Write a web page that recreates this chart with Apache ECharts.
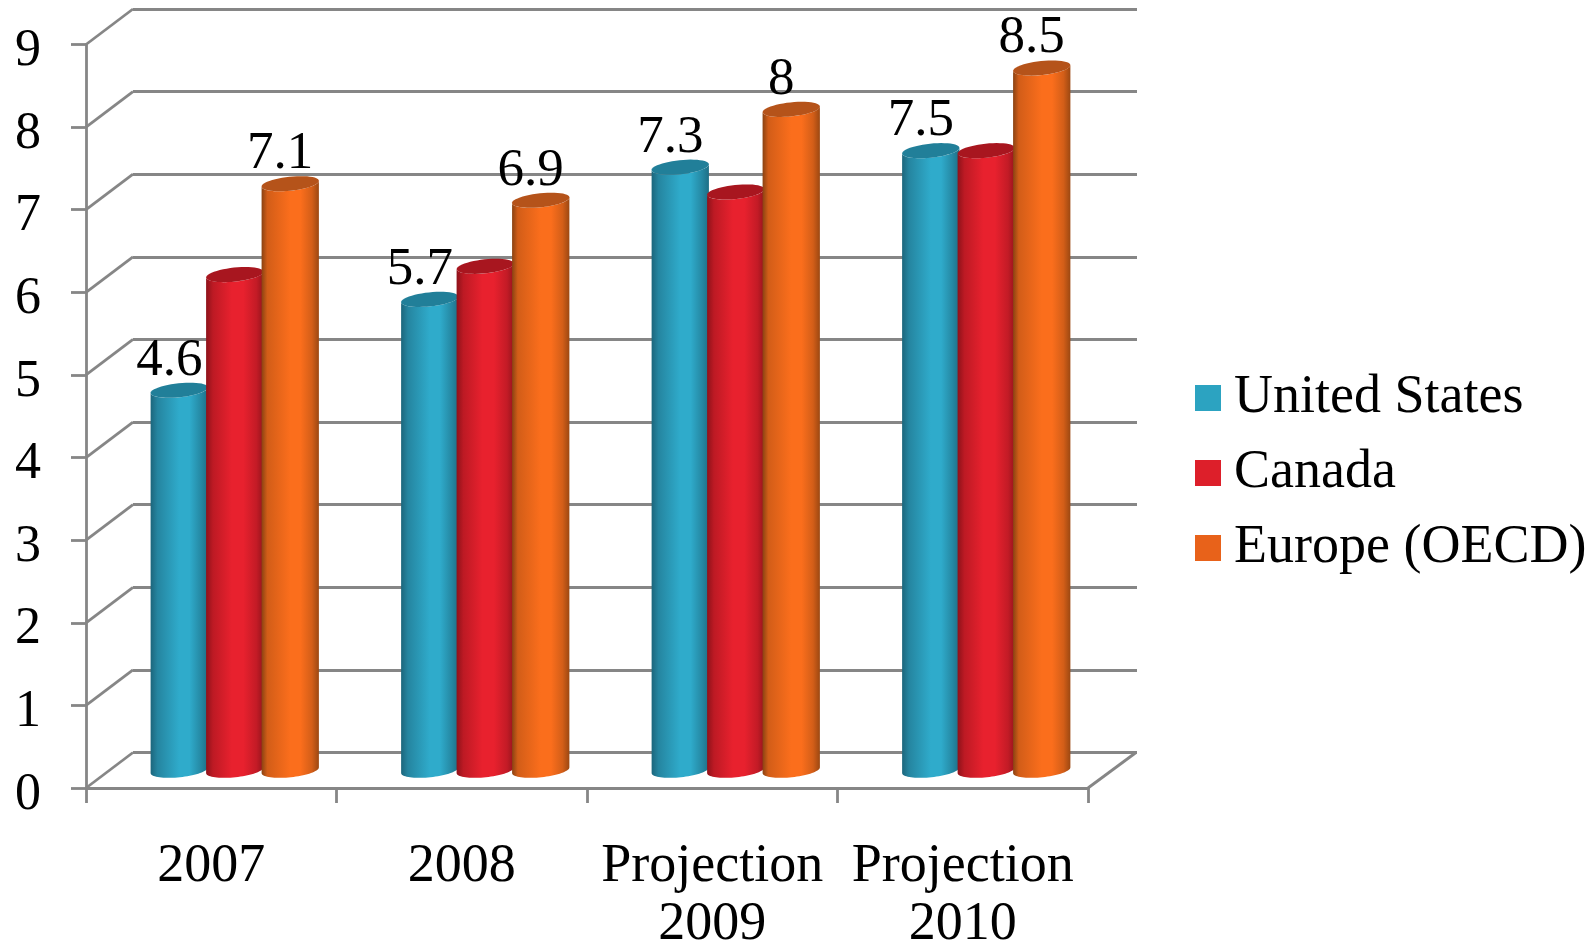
<!DOCTYPE html>
<html>
<head>
<meta charset="utf-8">
<title>Growth by region</title>
<style>
  html, body { margin: 0; padding: 0; background: #fff; }
  #chart { width: 1591px; height: 942px; }
</style>
<script src="https://cdn.jsdelivr.net/npm/echarts@6/dist/echarts.min.js"></script>
</head>
<body>
<div id="chart"></div>
<script>
// Chart values
var categories = ['2007', '2008', 'Projection\n2009', 'Projection\n2010'];
var unitedStates = [4.6, 5.7, 7.3, 7.5];
var canada = [6.0, 6.1, 7.0, 7.5];
var europe = [7.1, 6.9, 8, 8.5];
var valueTicks = [0, 1, 2, 3, 4, 5, 6, 7, 8, 9];

// Appearance
var FONT = '"Liberation Serif", serif';
var AXIS_COLOR = '#868686';
var LINE_WIDTH = 2.8;
var DEPTH_X = 47;        // back wall offset from the front plane
var DEPTH_Y = 35.5;
var TILT = 6 * Math.PI / 180;
var CAP_MINOR = 7;
var BAR_RATIO = 0.23;    // cylinder width as a share of the category band
var STEP_RATIO = 0.2215; // distance between neighbouring cylinders

var palette = {
  us: { flat: '#2ca3c1', cap: '#217f99',
        body: [[0, '#1c667c'], [0.12, '#2585a0'], [0.5, '#2fabcb'], [0.68, '#2fabcb'], [0.88, '#2588a3'], [1, '#1e6f86']] },
  ca: { flat: '#dd1f2a', cap: '#a8161f',
        body: [[0, '#8e121a'], [0.12, '#bd1a24'], [0.45, '#e8212e'], [0.65, '#e8212e'], [0.88, '#c31b26'], [1, '#96141c']] },
  eu: { flat: '#e8621a', cap: '#b5531a',
        body: [[0, '#8a4212'], [0.1, '#d25d18'], [0.5, '#fb6e1c'], [0.68, '#fb6e1c'], [0.88, '#d35e18'], [1, '#9c4812']] }
};

// Points around a tilted ellipse, from angle a0 to a1
function ellipsePoints(cx, cy, a, b, a0, a1, n) {
  var pts = [];
  for (var i = 0; i <= n; i++) {
    var t = a0 + (a1 - a0) * i / n;
    var ex = a * Math.cos(t), ey = b * Math.sin(t);
    pts.push([
      cx + ex * Math.cos(TILT) + ey * Math.sin(TILT),
      cy - ex * Math.sin(TILT) + ey * Math.cos(TILT)
    ]);
  }
  return pts;
}

// One cylinder: slot is -1, 0 or 1 within its category group
function cylinderRenderer(slot, colors, showLabel) {
  return function (params, api) {
    var cat = api.value(0), val = api.value(1);
    var top = api.coord([cat, val]);
    var base = api.coord([cat, 0]);
    var band = api.size([1, 0])[0];
    var a = band * BAR_RATIO / 2;
    var cx = top[0] + DEPTH_X / 2 + slot * band * STEP_RATIO;
    var topY = top[1] - DEPTH_Y / 2;
    var baseY = base[1] - DEPTH_Y / 2;

    var frontBottom = ellipsePoints(cx, baseY, a, CAP_MINOR, Math.PI, 0, 36);
    var topArc = ellipsePoints(cx, topY, a, CAP_MINOR, 0, Math.PI, 36);
    var body = frontBottom.concat(topArc);

    var children = [{
      type: 'polygon',
      shape: { points: body },
      style: { fill: new echarts.graphic.LinearGradient(0, 0, 1, 0, colors.body.map(function (s) {
        return { offset: s[0], color: s[1] };
      })) }
    }, {
      type: 'polygon',
      shape: { points: ellipsePoints(cx, topY, a, CAP_MINOR, 0, Math.PI * 2, 48) },
      style: { fill: colors.cap }
    }];

    if (showLabel) {
      children.push({
        type: 'text',
        style: {
          text: String(val),
          x: cx - 10,
          y: topY - 3,
          align: 'center',
          verticalAlign: 'bottom',
          fill: '#000',
          font: '53px ' + FONT
        }
      });
    }
    return { type: 'group', children: children };
  };
}

function cylinderSeries(name, values, slot, colors, showLabel) {
  return {
    name: name,
    type: 'custom',
    xAxisIndex: 0,
    yAxisIndex: 0,
    clip: false,
    z: 5,
    itemStyle: { color: colors.flat },
    encode: { x: 0, y: 1 },
    data: values.map(function (v, i) { return [i, v]; }),
    renderItem: cylinderRenderer(slot, colors, showLabel)
  };
}

var chart = echarts.init(document.getElementById('chart'));

chart.setOption({
  backgroundColor: '#fff',
  animation: false,
  textStyle: { fontFamily: FONT },
  grid: [
    // front plane: carries the visible axes
    { left: 86, top: 44.5, width: 1002, height: 743.5, outerBoundsMode: 'none' },
    // back wall: carries the horizontal rules
    { left: 133, top: 9, width: 1004, height: 743.5, outerBoundsMode: 'none' }
  ],
  xAxis: [{
    type: 'category',
    gridIndex: 0,
    data: categories,
    axisLine: { lineStyle: { color: AXIS_COLOR, width: LINE_WIDTH } },
    axisTick: { show: true, length: 15, lineStyle: { color: AXIS_COLOR, width: LINE_WIDTH } },
    axisLabel: { color: '#000', fontFamily: FONT, fontSize: 54, lineHeight: 58, margin: 50, interval: 0 }
  }, {
    type: 'category',
    gridIndex: 1,
    data: categories,
    show: false
  }],
  yAxis: [{
    type: 'value',
    gridIndex: 0,
    min: 0,
    max: 9,
    interval: 1,
    axisLine: { show: true, lineStyle: { color: AXIS_COLOR, width: LINE_WIDTH } },
    axisTick: { show: true, length: 15, lineStyle: { color: AXIS_COLOR, width: LINE_WIDTH } },
    splitLine: { show: false },
    // top alignment with a short line box sits each digit just below its tick
    axisLabel: { color: '#000', fontFamily: FONT, fontSize: 52, margin: 45, verticalAlign: 'top', lineHeight: 14 }
  }, {
    type: 'value',
    gridIndex: 1,
    min: 0,
    max: 9,
    interval: 1,
    axisLine: { show: false },
    axisTick: { show: false },
    axisLabel: { show: false },
    splitLine: { show: true, lineStyle: { color: AXIS_COLOR, width: LINE_WIDTH, type: 'solid' } }
  }],
  legend: {
    orient: 'vertical',
    left: 1195,
    top: 371,
    padding: 0,
    itemWidth: 26,
    itemHeight: 26,
    itemGap: 21,
    selectedMode: false,
    icon: 'rect',
    data: ['United States', 'Canada', 'Europe (OECD)'],
    textStyle: { color: '#000', fontFamily: FONT, fontSize: 54, lineHeight: 52, padding: [0, 0, 0, 8] }
  },
  series: [
    {
      // side wall rules, and the floor's right edge
      type: 'custom',
      xAxisIndex: 0,
      yAxisIndex: 0,
      clip: false,
      silent: true,
      z: 1,
      encode: { y: 0 },
      data: valueTicks.map(function (v) { return [v]; }),
      renderItem: function (params, api) {
        var rect = params.coordSys;
        var y = api.coord([0, api.value(0)])[1];
        var lines = [{
          type: 'line',
          shape: { x1: rect.x, y1: y, x2: rect.x + DEPTH_X, y2: y - DEPTH_Y },
          style: { stroke: AXIS_COLOR, lineWidth: LINE_WIDTH }
        }];
        if (api.value(0) === 0) {
          lines.push({
            type: 'line',
            shape: { x1: rect.x + rect.width, y1: y, x2: rect.x + rect.width + DEPTH_X + 1, y2: y - DEPTH_Y },
            style: { stroke: AXIS_COLOR, lineWidth: LINE_WIDTH }
          });
        }
        return { type: 'group', children: lines };
      }
    },
    cylinderSeries('United States', unitedStates, -1, palette.us, true),
    cylinderSeries('Canada', canada, 0, palette.ca, false),
    cylinderSeries('Europe (OECD)', europe, 1, palette.eu, true)
  ]
});
</script>
</body>
</html>
